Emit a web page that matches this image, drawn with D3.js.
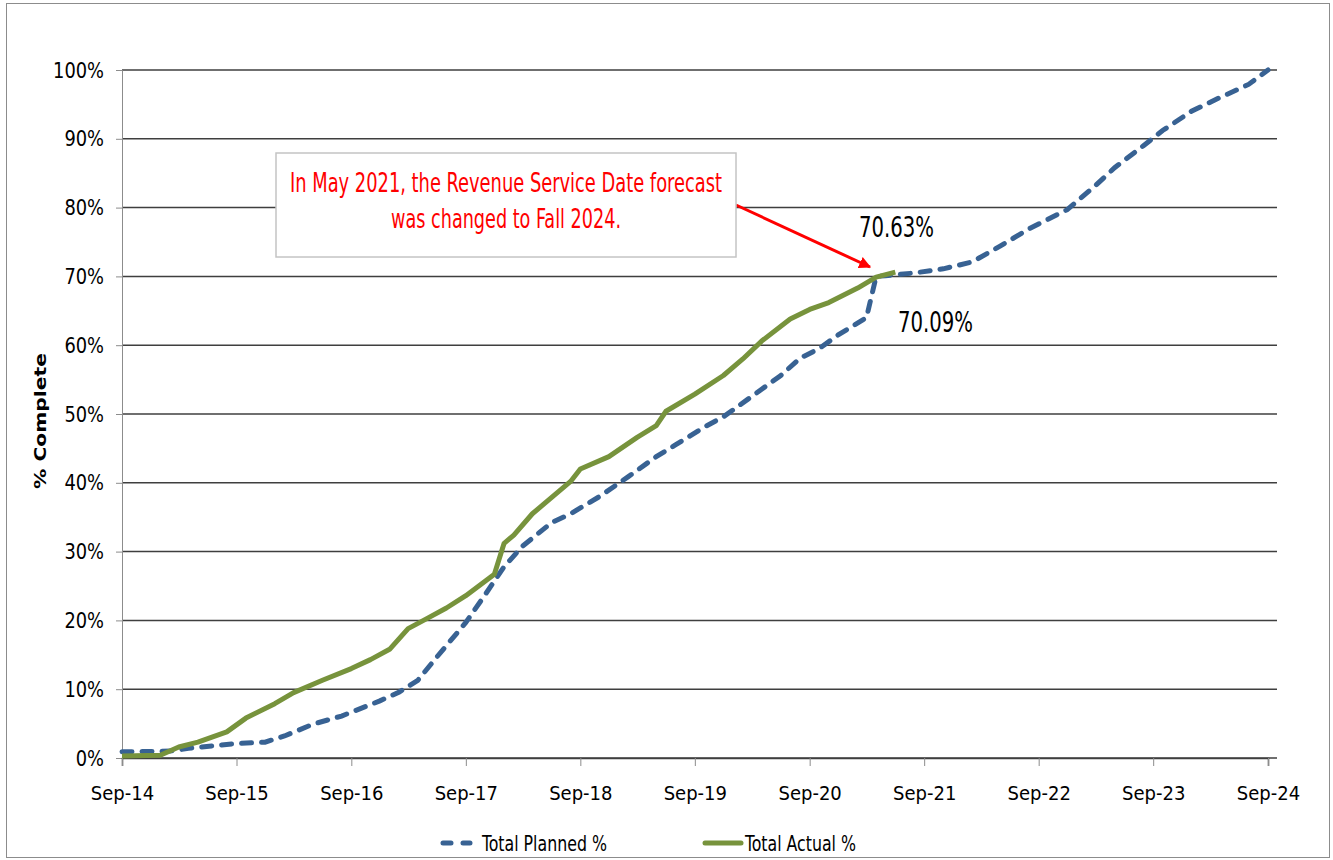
<!DOCTYPE html>
<html>
<head>
<meta charset="utf-8">
<script src="https://cdn.jsdelivr.net/npm/d3@7"></script>
<style>
  body { margin: 0; background: #fff; }
</style>
</head>
<body>
<div id="chart"></div>
<script>
// x axis ticks (every September)
const xTicks = ["2014-09", "2015-09", "2016-09", "2017-09", "2018-09", "2019-09",
  "2020-09", "2021-09", "2022-09", "2023-09", "2024-09"];
const yTicks = [0, 10, 20, 30, 40, 50, 60, 70, 80, 90, 100];

// Total Planned %
const plannedDates = ["2014-09", "2015-02", "2015-04", "2015-09", "2015-12", "2016-02", "2016-05",
  "2016-08", "2016-12", "2017-02", "2017-04", "2017-06", "2017-09", "2017-11", "2018-01",
  "2018-03", "2018-06", "2018-08", "2018-11", "2019-02", "2019-05", "2019-07", "2019-10",
  "2019-12", "2020-01", "2020-04", "2020-06", "2020-08", "2020-10", "2020-12", "2021-03",
  "2021-04", "2021-05", "2021-08", "2021-11", "2022-02", "2022-05", "2022-08", "2022-12",
  "2023-03", "2023-05", "2023-08", "2023-10", "2024-01", "2024-04", "2024-07", "2024-09"];
const plannedValues = [0.9, 1.0, 1.4, 2.1, 2.3, 3.2, 4.9,
  6.1, 8.3, 9.6, 11.3, 14.7, 19.7, 23.7, 27.8,
  30.8, 34.2, 35.5, 38.0, 40.9, 43.8, 45.5, 48.1,
  49.6, 50.6, 53.6, 55.6, 58.1, 59.5, 61.5, 64.0,
  70.0, 70.09, 70.5, 71.1, 72.1, 74.4, 76.9, 79.7,
  83.2, 85.8, 89.0, 91.2, 94.0, 96.0, 97.9, 100];

// Total Actual %
const actualDates = ["2014-09", "2015-01", "2015-03", "2015-05", "2015-08", "2015-10", "2016-01",
  "2016-03", "2016-06", "2016-09", "2016-11", "2017-01", "2017-03", "2017-05", "2017-07",
  "2017-09", "2017-12", "2018-01", "2018-02", "2018-04", "2018-08", "2018-09", "2018-12",
  "2019-03", "2019-05", "2019-06", "2019-09", "2019-12", "2020-02", "2020-04", "2020-07",
  "2020-09", "2020-11", "2021-02", "2021-04", "2021-06"];
const actualValues = [0.3, 0.4, 1.6, 2.3, 3.8, 5.8, 7.9,
  9.5, 11.3, 13.0, 14.3, 15.8, 18.8, 20.3, 21.8,
  23.6, 26.7, 31.2, 32.4, 35.5, 40.2, 42.0, 43.8,
  46.6, 48.3, 50.4, 52.9, 55.6, 58.0, 60.6, 63.8,
  65.2, 66.2, 68.3, 69.9, 70.63];

const seriesNames = ["Total Planned %", "Total Actual %"];
const noteLines = ["In May 2021, the Revenue Service Date forecast", "was changed to Fall 2024."];

function chart() {
  const W = 1333, H = 860;
  const parse = d3.timeParse("%Y-%m");
  const blue = "#386293", green = "#77933c";
  const narrow = "'Liberation Sans Narrow', 'DejaVu Sans Condensed', 'Open Sans', sans-serif";

  const svg = d3.select("#chart")
    .append("svg")
    .attr("width", W)
    .attr("height", H);

  // outer frame
  svg.append("rect")
    .attr("x", 6.5).attr("y", 3.5)
    .attr("width", 1323).attr("height", 854)
    .attr("fill", "none")
    .attr("stroke", "#8c8c8c");

  const x = d3.scaleTime()
    .domain([parse("2014-09"), parse("2024-09")])
    .range([122, 1268]);
  const y = d3.scaleLinear()
    .domain([0, 100])
    .range([758, 70]);

  // gridlines
  svg.append("g")
    .selectAll("line")
    .data(yTicks)
    .enter()
    .append("line")
    .attr("x1", 122).attr("x2", 1277)
    .attr("y1", d => y(d)).attr("y2", d => y(d))
    .attr("stroke", "#3f3f3f")
    .attr("stroke-width", 1.5);

  // Y axis
  const yAxis = svg.append("g")
    .attr("transform", "translate(122,0)")
    .call(d3.axisLeft(y).tickValues(yTicks).tickSize(6).tickPadding(12).tickFormat(d => d + "%"));
  yAxis.select(".domain").attr("stroke", "#8c8c8c");
  yAxis.selectAll(".tick line").attr("stroke", "#8c8c8c");
  yAxis.selectAll("text")
    .attr("font-family", narrow)
    .attr("font-size", "22px")
    .attr("fill", "#000")
    .attr("lengthAdjust", "spacingAndGlyphs")
    .attr("textLength", function () { return this.getComputedTextLength() * 0.9; });

  // X axis
  const xAxis = svg.append("g")
    .attr("transform", "translate(0,758)")
    .call(d3.axisBottom(x).tickValues(xTicks.map(parse)).tickSize(8).tickPadding(20)
      .tickFormat(d3.timeFormat("%b-%y")));
  xAxis.select(".domain").attr("stroke", "#3f3f3f").attr("stroke-width", 1.5);
  xAxis.selectAll(".tick line").attr("stroke", "#8c8c8c");
  xAxis.selectAll("text")
    .attr("font-family", narrow)
    .attr("font-size", "20px")
    .attr("fill", "#000");

  // Y axis title
  svg.append("text")
    .attr("transform", "translate(46,421) rotate(-90)")
    .attr("text-anchor", "middle")
    .attr("font-family", "'DejaVu Sans', sans-serif")
    .attr("font-weight", "bold")
    .attr("font-size", "16px")
    .attr("textLength", 136)
    .attr("lengthAdjust", "spacingAndGlyphs")
    .text("% Complete");

  const line = d3.line()
    .x(d => x(d[0]))
    .y(d => y(d[1]));

  const planned = plannedDates.map((d, i) => [parse(d), plannedValues[i]]);
  const actual = actualDates.map((d, i) => [parse(d), actualValues[i]]);

  svg.append("path")
    .attr("d", line(planned))
    .attr("fill", "none")
    .attr("stroke", blue)
    .attr("stroke-width", 5)
    .attr("stroke-linecap", "round")
    .attr("stroke-dasharray", "10,10");

  svg.append("path")
    .attr("d", line(actual))
    .attr("fill", "none")
    .attr("stroke", green)
    .attr("stroke-width", 5)
    .attr("stroke-linejoin", "round");

  // value labels
  const lastActual = actual[actual.length - 1];
  svg.append("text")
    .attr("x", 859).attr("y", 237)
    .attr("font-family", narrow)
    .attr("font-size", "28px")
    .attr("textLength", 75)
    .attr("lengthAdjust", "spacingAndGlyphs")
    .text(lastActual[1].toFixed(2) + "%");
  svg.append("text")
    .attr("x", 898).attr("y", 332)
    .attr("font-family", narrow)
    .attr("font-size", "28px")
    .attr("textLength", 75)
    .attr("lengthAdjust", "spacingAndGlyphs")
    .text(plannedValues[plannedDates.indexOf("2021-05")].toFixed(2) + "%");

  // annotation arrow
  svg.append("defs").append("marker")
    .attr("id", "arrow")
    .attr("viewBox", "0 0 10 10")
    .attr("refX", 9).attr("refY", 5)
    .attr("markerWidth", 4).attr("markerHeight", 4)
    .attr("orient", "auto")
    .append("path")
    .attr("d", "M0,0L10,5L0,10z")
    .attr("fill", "#ff0000");
  svg.append("line")
    .attr("x1", 736).attr("y1", 205)
    .attr("x2", 870).attr("y2", 267)
    .attr("stroke", "#ff0000")
    .attr("stroke-width", 3)
    .attr("marker-end", "url(#arrow)");

  // annotation box
  svg.append("rect")
    .attr("x", 276).attr("y", 153)
    .attr("width", 460).attr("height", 104)
    .attr("fill", "#fff")
    .attr("stroke", "#c4c4c4")
    .attr("stroke-width", 1.5);
  svg.selectAll(".note")
    .data(noteLines)
    .enter()
    .append("text")
    .attr("class", "note")
    .attr("x", 506)
    .attr("y", (d, i) => 192 + i * 36)
    .attr("text-anchor", "middle")
    .attr("font-family", narrow)
    .attr("font-size", "26px")
    .attr("fill", "#ff0000")
    .attr("textLength", (d, i) => i === 0 ? 432 : 230)
    .attr("lengthAdjust", "spacingAndGlyphs")
    .text(d => d);

  // legend
  const legend = svg.append("g");
  legend.append("line")
    .attr("x1", 443).attr("x2", 470)
    .attr("y1", 843).attr("y2", 843)
    .attr("stroke", blue)
    .attr("stroke-width", 5)
    .attr("stroke-linecap", "round")
    .attr("stroke-dasharray", "8,12");
  legend.append("text")
    .attr("x", 482).attr("y", 851)
    .attr("font-family", narrow)
    .attr("font-size", "21px")
    .attr("textLength", 125)
    .attr("lengthAdjust", "spacingAndGlyphs")
    .text(seriesNames[0]);
  legend.append("line")
    .attr("x1", 705).attr("x2", 741)
    .attr("y1", 843).attr("y2", 843)
    .attr("stroke", green)
    .attr("stroke-width", 5)
    .attr("stroke-linecap", "round");
  legend.append("text")
    .attr("x", 745).attr("y", 851)
    .attr("font-family", narrow)
    .attr("font-size", "21px")
    .attr("textLength", 111)
    .attr("lengthAdjust", "spacingAndGlyphs")
    .text(seriesNames[1]);
}

chart();
</script>
</body>
</html>
